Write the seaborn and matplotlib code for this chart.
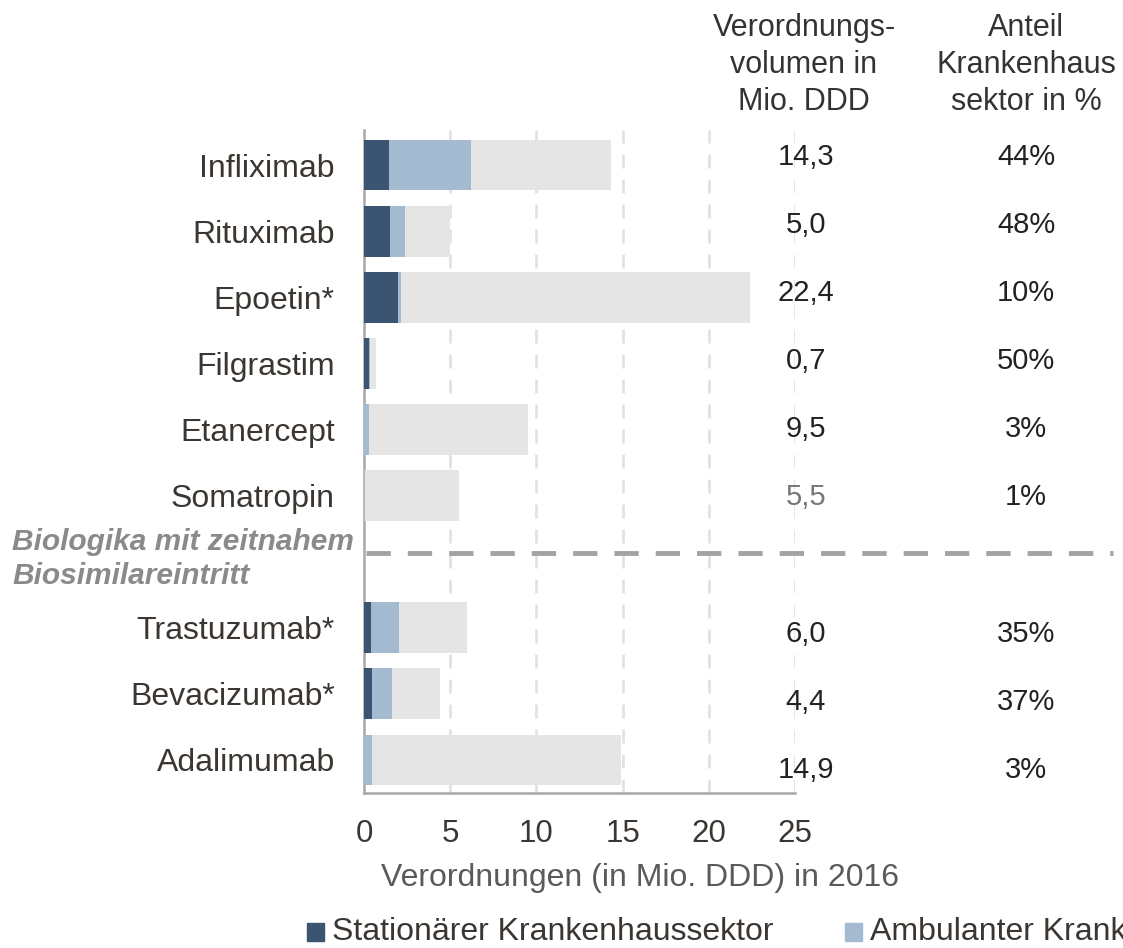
import matplotlib
matplotlib.use("Agg")
import matplotlib.pyplot as plt
import matplotlib.transforms as mtransforms
import seaborn as sns
import pandas as pd

sns.set_theme(style="white")
plt.rcParams['font.family'] = ['Liberation Sans', 'DejaVu Sans']

# ---- data ----
drugs = ["Infliximab", "Rituximab", "Epoetin*", "Filgrastim", "Etanercept", "Somatropin",
         "Trastuzumab*", "Bevacizumab*", "Adalimumab"]
total = [14.3, 5.0, 22.4, 0.7, 9.5, 5.5, 6.0, 4.4, 14.9]
stationaer = [1.45, 1.5, 2.0, 0.29, 0.0, 0.0, 0.4, 0.46, 0.0]
ambulant = [4.75, 0.9, 0.15, 0.06, 0.29, 0.05, 1.65, 1.14, 0.46]
volume_labels = ["14,3", "5,0", "22,4", "0,7", "9,5", "5,5", "6,0", "4,4", "14,9"]
share_labels = ["44%", "48%", "10%", "50%", "3%", "1%", "35%", "37%", "3%"]
group_label = "Biologika mit zeitnahem\nBiosimilareintritt"
col1_header = "Verordnungs-\nvolumen in\nMio. DDD"
col2_header = "Anteil\nKrankenhaus\nsektor in %"
xlabel = "Verordnungen (in Mio. DDD) in 2016"
legend_labels = ["Stationärer Krankenhaussektor", "Ambulanter Krankenhaussektor"]
xticks = [0, 5, 10, 15, 20, 25]

C_DARK = "#3b5472"
C_LIGHT = "#a4bad1"
C_GRAY = "#e5e5e5"
TXT = "#3b3631"

df = pd.DataFrame({
    "drug": drugs,
    "total": total,
    "stat": stationaer,
    "stat_amb": [s + a for s, a in zip(stationaer, ambulant)],
})
order = drugs[:6] + [" "] + drugs[6:]

W, H = 1123, 948
fig = plt.figure(figsize=(W / 100, H / 100), dpi=100)
ax = fig.add_axes([364 / W, 1 - 793 / H, (795 - 364) / W, (793 - 130) / H])

for col, c in [("total", C_GRAY), ("stat_amb", C_LIGHT), ("stat", C_DARK)]:
    sns.barplot(data=df, x=col, y="drug", order=order, orient="h", color=c,
                width=0.77, saturation=1, linewidth=0, ax=ax, zorder=3)

ax.set_xlim(0, 25)
ax.set_ylim(9.5, -0.53)
ax.set_xticks(xticks)
ax.set_xticklabels([str(t) for t in xticks], fontsize=22.5, color=TXT)
ax.tick_params(axis="x", length=10, width=1.5, color="#b0b0b0", pad=9, direction="out")
ax.tick_params(axis="y", length=0, pad=21, labelsize=23, labelcolor=TXT)
ax.set_ylabel("")
ax.set_xlabel(xlabel, fontsize=23, color="#5a5a5a")
ax.xaxis.set_label_coords((640 - 364) / (795 - 364), -0.105)

for v in xticks[1:]:
    ax.axvline(v, color="#e2e2e2", lw=2, ls=(0, (5, 4)), zorder=1)

for s in ["top", "right"]:
    ax.spines[s].set_visible(False)
for s in ["left", "bottom"]:
    ax.spines[s].set_color("#a8a8a8")
    ax.spines[s].set_linewidth(1.8)

# separator line
trans = mtransforms.blended_transform_factory(ax.transAxes, ax.transData)
ax.plot([0.005, (1113 - 364) / (795 - 364)], [5.87, 5.87], transform=trans,
        color="#a3a3a3", lw=3.5, ls=(0, (5, 3.5)), clip_on=False, zorder=4)
fig.text(12 / W, 1 - 559 / H, group_label, fontsize=21.5, fontweight="bold",
         fontstyle="italic", color="#8a8a8a", ha="left", va="center", linespacing=1.25)

# right columns
fig.text(804 / W, 1 - 65 / H, col1_header, fontsize=22, color="#333333",
         ha="center", va="center", linespacing=1.3)
fig.text(1026 / W, 1 - 65 / H, col2_header, fontsize=22, color="#333333",
         ha="center", va="center", linespacing=1.3)

slot = [i for i, d in enumerate(order) if d.strip()]
for k, (v, s) in enumerate(zip(volume_labels, share_labels)):
    y = 157 + slot[k] * 68.1
    c = "#777777" if drugs[k] == "Somatropin" else "#222222"
    fig.text(806 / W, 1 - y / H, v, fontsize=21, color=c, ha="center", va="center")
    fig.text(1026 / W, 1 - y / H, s, fontsize=21, color="#222222", ha="center", va="center")

# legend
ly = 1 - 932 / H
for x0, lab, c in [(307, legend_labels[0], C_DARK), (845, legend_labels[1], C_LIGHT)]:
    fig.patches.append(plt.Rectangle((x0 / W, 1 - 941 / H), 17 / W, 18 / H,
                                     transform=fig.transFigure, color=c, figure=fig))
    fig.text((x0 + 25) / W, ly, lab, fontsize=23, color=TXT, ha="left", va="center")

fig.savefig("out.png", dpi=100)
